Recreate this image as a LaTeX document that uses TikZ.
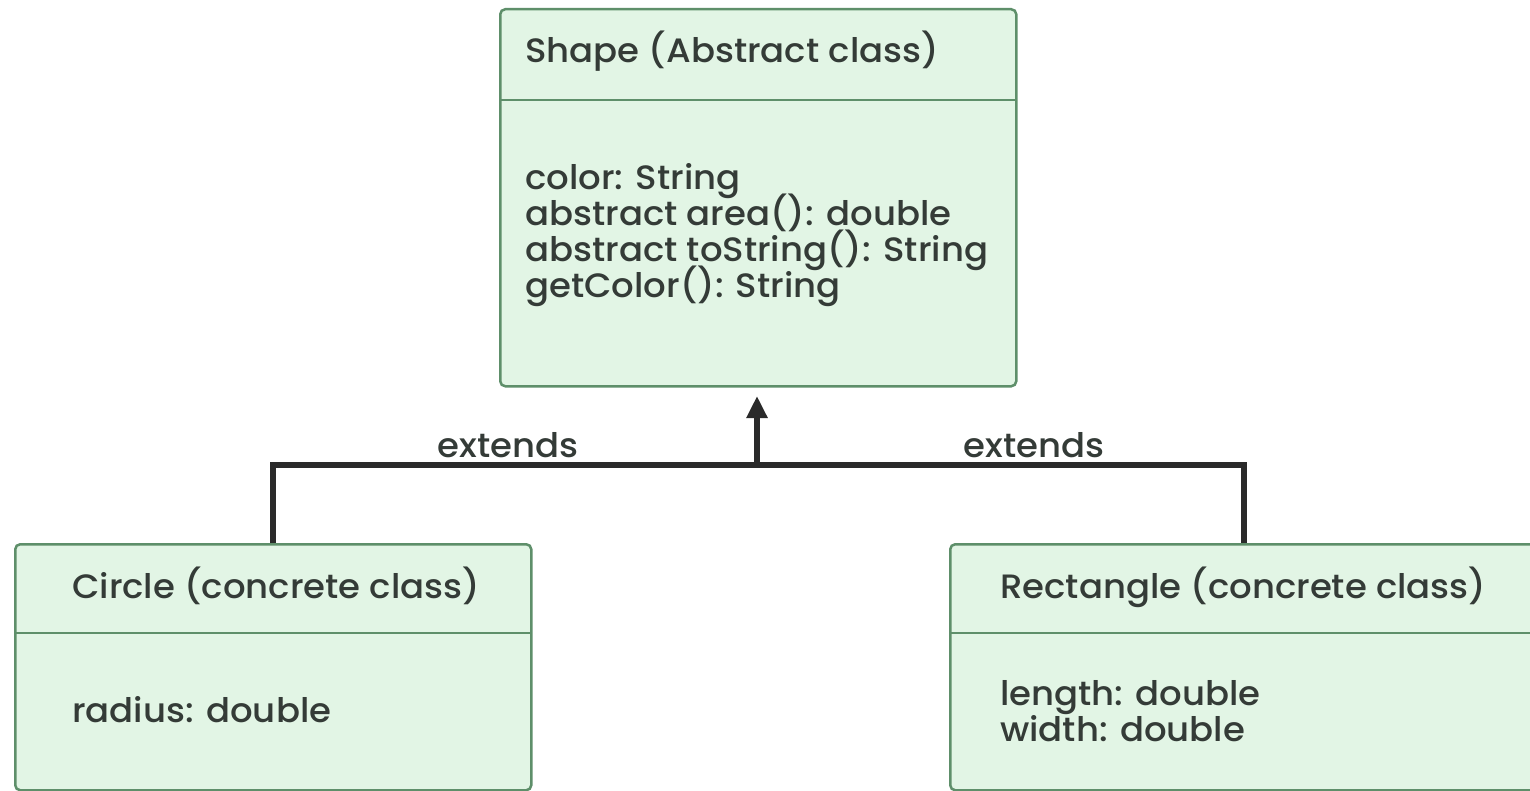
\documentclass[tikz,border=0pt]{standalone}
\usepackage{fontspec}
\setmainfont{Poppins}[UprightFont=* Medium, FakeStretch=1.05]
\usetikzlibrary{arrows.meta}
\definecolor{boxfill}{HTML}{E2F5E5}
\definecolor{boxdraw}{HTML}{5E8F6A}
\definecolor{txt}{HTML}{343B37}
\definecolor{conncol}{HTML}{2A2A2A}
\tikzset{
  classbox/.style={draw=boxdraw, fill=boxfill, line width=2.5pt, rounded corners=5pt, rectangle, anchor=north west, inner sep=0pt},
  divider/.style={draw=boxdraw, line width=2.5pt},
  label/.style={anchor=base west, inner sep=0pt, text=txt, font=\fontsize{33.8}{36}\selectfont},
  conn/.style={draw=conncol, line width=6pt},
}
\begin{document}
\begin{tikzpicture}[x=1pt,y=-1pt]
\useasboundingbox (0,0) rectangle (1530,791);
\fill[white] (0,0) rectangle (1530,791);
% Shape box
\node[classbox, minimum width=516pt, minimum height=377pt] (shape) at (499,8) {};
\coordinate (shapeDL) at (499,100);
\coordinate (shapeDR) at (1015,100);
\draw[divider] (shapeDL) -- (shapeDR);
\node[label] (shapeT) at (525,63) {Shape (Abstract class)};
\node[label] (s1) at (525,190) {color: String};
\node[label] (s2) at (525,226) {abstract area(): double};
\node[label] (s3) at (525,262) {abstract toString(): String};
\node[label] (s4) at (525,298) {getColor(): String};
% Circle box
\node[classbox, minimum width=516pt, minimum height=246pt] (circ) at (14,543) {};
\coordinate (circDL) at (14,633);
\coordinate (circDR) at (530,633);
\draw[divider] (circDL) -- (circDR);
\node[label] (circT) at (72,598) {Circle (concrete class)};
\node[label] (c1) at (72,722) {radius: double};
% Rectangle box
\node[classbox, minimum width=588pt, minimum height=246pt] (rect) at (949,543) {};
\coordinate (rectDL) at (949,633);
\coordinate (rectDR) at (1537,633);
\draw[divider] (rectDL) -- (rectDR);
\node[label] (rectT) at (1000,598) {Rectangle (concrete class)};
\node[label] (r1) at (1000,705) {length: double};
\node[label] (r2) at (1000,741) {width: double};
% connectors
\coordinate (hub) at (757,465);
\coordinate (tip) at (757,396);
\draw[conn] (circ.north) |- (hub) -| (rect.north);
\draw[conn, -{Triangle[length=22pt,width=20pt]}] (hub) -- (tip);
\node[label, anchor=base] (ext1) at (508,457) {extends};
\node[label, anchor=base] (ext2) at (1034,457) {extends};
\end{tikzpicture}
\end{document}
